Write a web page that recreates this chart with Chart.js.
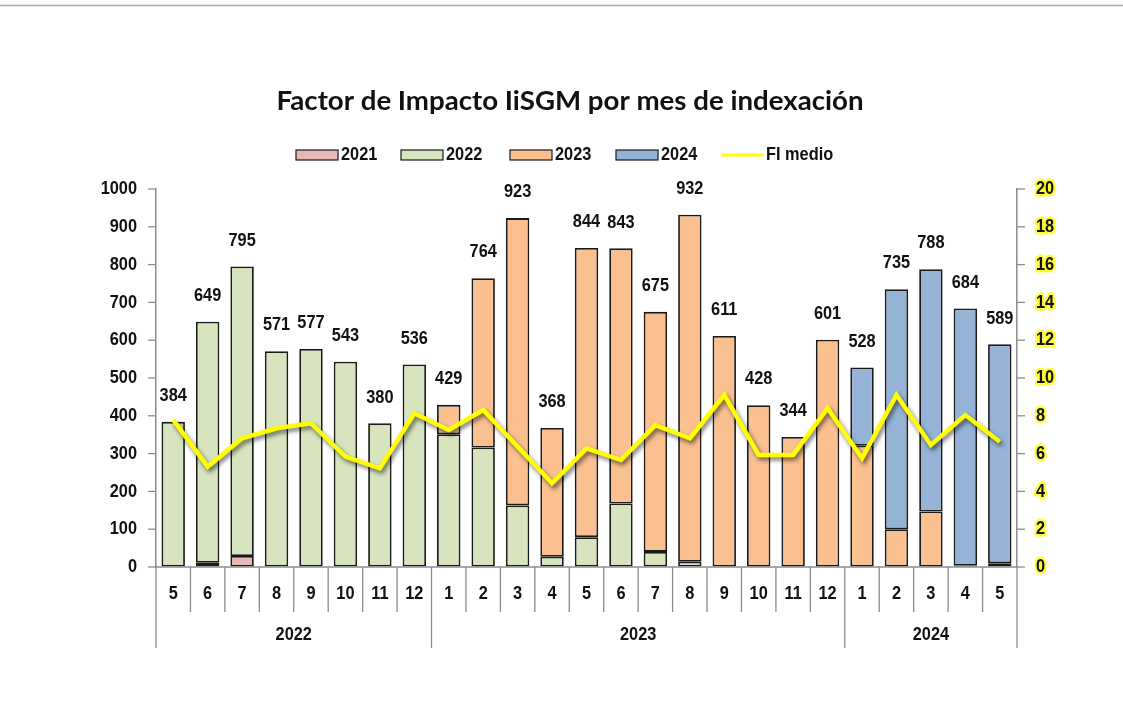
<!DOCTYPE html>
<html>
<head>
<meta charset="utf-8">
<script src="https://cdn.jsdelivr.net/npm/chart.js@4"></script>
<style>
    body { margin: 0; background: #fff; }
    #wrap { width: 1123px; height: 720px; position: relative; }
</style>
</head>
<body>
<div id="wrap"><canvas id="chart" width="1123" height="720"></canvas></div>
<script>
const months = ["5", "6", "7", "8", "9", "10", "11", "12",
    "1", "2", "3", "4", "5", "6", "7", "8", "9", "10", "11", "12",
    "1", "2", "3", "4", "5"];
const yearLabels = ["2022", "2023", "2024"];
const monthsPerYear = [8, 12, 5];

const s2021 = [0, 11, 29, 0, 0, 0, 0, 0, 0, 0, 0, 0, 0, 0, 0, 0, 0, 0, 0, 0, 0, 0, 0, 0, 0];
const s2022 = [384, 638, 766, 571, 577, 543, 380, 536, 351, 316, 163, 27, 79, 168, 40, 14, 0, 0, 0, 0, 0, 0, 0, 0, 0];
const s2023 = [0, 0, 0, 0, 0, 0, 0, 0, 78, 448, 760, 341, 765, 675, 635, 918, 611, 428, 344, 601, 321, 100, 147, 3, 10];
const s2024 = [0, 0, 0, 0, 0, 0, 0, 0, 0, 0, 0, 0, 0, 0, 0, 0, 0, 0, 0, 0, 207, 635, 641, 681, 579];
const fiMedio = [7.78, 5.31, 6.81, 7.34, 7.6, 5.84, 5.22, 8.13, 7.25, 8.31, 6.37, 4.43, 6.28, 5.66, 7.51, 6.81, 9.1, 5.93, 5.93, 8.4, 5.75, 9.1, 6.46, 8.04, 6.63];

const leftTicks = { min: 0, max: 1000, step: 100 };
const rightTicks = { min: 0, max: 20, step: 2 };

const FONT = "bold 19px 'Liberation Sans', Arial, sans-serif";
const SQUEEZE = 0.86; // the original uses a narrow face
const INK = "#111";
const AXIS = "#8c8c8c";

const noZero = arr => arr.map(v => v === 0 ? null : v);
const totals = months.map((m, i) => s2021[i] + s2022[i] + s2023[i] + s2024[i]);

const bar = (label, data, color) => ({
    type: "bar",
    label,
    data: noZero(data),
    backgroundColor: color,
    borderColor: "#1a1a1a",
    borderWidth: 1.8,
    borderSkipped: false,
    barPercentage: 0.68,
    categoryPercentage: 1,
    stack: "m",
    yAxisID: "y",
    order: 2,
});

function narrow(ctx, text, x, y, align, glow) {
    ctx.save();
    ctx.translate(x, y);
    ctx.scale(SQUEEZE, 1);
    ctx.font = FONT;
    ctx.textAlign = align;
    ctx.textBaseline = "middle";
    if (glow) {
        ctx.strokeStyle = "rgba(255,255,0,0.8)";
        ctx.lineWidth = 5;
        ctx.lineJoin = "round";
        ctx.strokeText(text, 0, 0);
    }
    ctx.fillStyle = INK;
    ctx.fillText(text, 0, 0);
    ctx.restore();
}

const decor = {
    id: "decor",
    beforeDatasetDraw(chart, args) {
        if (args.index !== 4) return;
        const ctx = chart.ctx;
        ctx.save();
        ctx.shadowColor = "rgba(0,0,0,0.55)";
        ctx.shadowBlur = 4;
        ctx.shadowOffsetX = 2;
        ctx.shadowOffsetY = 3;
    },
    afterDatasetDraw(chart, args) {
        if (args.index === 4) chart.ctx.restore();
    },
    afterDraw(chart) {
        const ctx = chart.ctx, area = chart.chartArea, x = chart.scales.x;
        const y = chart.scales.y, y1 = chart.scales.y1;
        ctx.save();

        // frame line on top
        ctx.strokeStyle = "#a8a8a8";
        ctx.lineWidth = 1.5;
        ctx.beginPath();
        ctx.moveTo(0, 5.5);
        ctx.lineTo(1123, 5.5);
        ctx.stroke();

        // title
        ctx.fillStyle = INK;
        ctx.textBaseline = "middle";
        ctx.textAlign = "center";
        ctx.font = "bold 26px Lato, 'Open Sans', sans-serif";
        const title = "Factor de Impacto IiSGM por mes de indexación";
        const tw = ctx.measureText(title).width;
        ctx.save();
        ctx.translate(570, 102);
        ctx.scale(587 / tw, 1);
        ctx.fillText(title, 0, 0);
        ctx.restore();

        // legend
        const legend = [
            { text: "2021", color: "#E6B9B8", x: 296 },
            { text: "2022", color: "#D7E4BD", x: 401 },
            { text: "2023", color: "#FAC090", x: 510 },
            { text: "2024", color: "#95B3D7", x: 616 },
            { text: "FI medio", color: "#FFFF00", x: 721, line: true },
        ];
        legend.forEach(it => {
            if (it.line) {
                ctx.strokeStyle = it.color;
                ctx.lineWidth = 3;
                ctx.beginPath();
                ctx.moveTo(it.x, 155);
                ctx.lineTo(it.x + 43, 155);
                ctx.stroke();
            } else {
                ctx.fillStyle = it.color;
                ctx.fillRect(it.x, 150, 42, 10);
                ctx.strokeStyle = "#1a1a1a";
                ctx.lineWidth = 1.2;
                ctx.strokeRect(it.x, 150, 42, 10);
            }
            narrow(ctx, it.text, it.x + 45, 155, "left");
        });

        // value axes: tick marks and labels
        ctx.strokeStyle = AXIS;
        ctx.lineWidth = 1.3;
        y.ticks.forEach(t => {
            const py = y.getPixelForValue(t.value);
            ctx.beginPath();
            ctx.moveTo(area.left - 8, py);
            ctx.lineTo(area.left, py);
            ctx.stroke();
            narrow(ctx, String(t.value), area.left - 19, py, "right");
        });
        y1.ticks.forEach(t => {
            const py = y1.getPixelForValue(t.value);
            ctx.beginPath();
            ctx.moveTo(area.right, py);
            ctx.lineTo(area.right + 8, py);
            ctx.stroke();
            narrow(ctx, String(t.value), area.right + 19, py, "left", true);
        });

        // baseline
        ctx.lineWidth = 1.5;
        ctx.beginPath();
        ctx.moveTo(area.left, area.bottom);
        ctx.lineTo(area.right, area.bottom);
        ctx.stroke();

        // two-level category axis
        const half = (x.getPixelForValue(1) - x.getPixelForValue(0)) / 2;
        const groupEdges = [0];
        monthsPerYear.reduce((acc, n) => { groupEdges.push(acc + n); return acc + n; }, 0);
        ctx.lineWidth = 1.3;
        for (let i = 0; i <= months.length; i++) {
            const px = i < months.length ? x.getPixelForValue(i) - half : x.getPixelForValue(i - 1) + half;
            const long = groupEdges.includes(i);
            ctx.beginPath();
            ctx.moveTo(px, area.bottom);
            ctx.lineTo(px, area.bottom + (long ? 81 : 45));
            ctx.stroke();
        }
        months.forEach((m, i) => narrow(ctx, m, x.getPixelForValue(i), area.bottom + 27, "center"));
        yearLabels.forEach((yr, g) => {
            const a = x.getPixelForValue(groupEdges[g]);
            const b = x.getPixelForValue(groupEdges[g + 1] - 1);
            narrow(ctx, yr, (a + b) / 2, area.bottom + 68, "center");
        });

        // totals above bars
        totals.forEach((t, i) => {
            narrow(ctx, String(t), x.getPixelForValue(i), y.getPixelForValue(t) - 26, "center");
        });
        ctx.restore();
    }
};

new Chart(document.getElementById("chart"), {
    data: {
        labels: months,
        datasets: [
            bar("2021", s2021, "#E6B9B8"),
            bar("2022", s2022, "#D7E4BD"),
            bar("2023", s2023, "#FAC090"),
            bar("2024", s2024, "#95B3D7"),
            {
                type: "line",
                label: "FI medio",
                data: fiMedio,
                yAxisID: "y1",
                borderColor: "#FFFF00",
                borderWidth: 4.5,
                pointRadius: 0,
                tension: 0,
                order: 1,
            },
        ]
    },
    options: {
        responsive: false,
        animation: false,
        layout: { padding: { top: 189, bottom: 153, left: 0, right: 0 } },
        plugins: {
            legend: { display: false },
            tooltip: { enabled: false },
        },
        scales: {
            x: { type: "category", stacked: true, display: false, offset: true },
            y: {
                position: "left",
                stacked: true,
                min: leftTicks.min,
                max: leftTicks.max,
                ticks: { stepSize: leftTicks.step, display: false },
                grid: { drawOnChartArea: false, drawTicks: false },
                border: { color: AXIS, width: 1.5 },
                afterFit: s => { s.width = 156; },
            },
            y1: {
                position: "right",
                min: rightTicks.min,
                max: rightTicks.max,
                ticks: { stepSize: rightTicks.step, display: false },
                grid: { drawOnChartArea: false, drawTicks: false },
                border: { color: AXIS, width: 1.5 },
                afterFit: s => { s.width = 106; },
            },
        }
    },
    plugins: [decor]
});
</script>
</body>
</html>
